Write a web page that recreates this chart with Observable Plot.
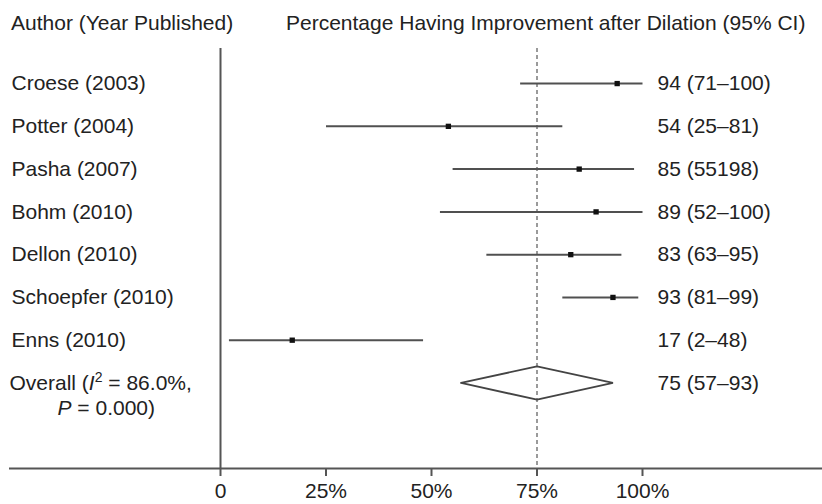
<!DOCTYPE html>
<html>
<head>
<meta charset="utf-8">
<script src="https://cdn.jsdelivr.net/npm/d3@7"></script>
<script src="https://cdn.jsdelivr.net/npm/@observablehq/plot@0.6"></script>
<style>
  body { margin: 0; background: #fff; font-family: "Liberation Sans", Arial, sans-serif; color: #222; }
  #wrap { width: 822px; }
  #header { position: relative; height: 44px; font-size: 21px; line-height: 21px; }
  #header span { position: absolute; top: 12px; white-space: nowrap; }
  svg { display: block; }
</style>
</head>
<body>
<div id="wrap">
  <div id="header"></div>
  <div id="chart"></div>
</div>
<script>
// ---- data ----
const authors = ["Croese (2003)", "Potter (2004)", "Pasha (2007)", "Bohm (2010)", "Dellon (2010)", "Schoepfer (2010)", "Enns (2010)"];
const estimates = [94, 54, 85, 89, 83, 93, 17];
const lowerCI = [71, 25, 55, 52, 63, 81, 2];
const upperCI = [100, 81, 98, 100, 95, 99, 48];
const valueLabels = ["94 (71–100)", "54 (25–81)", "85 (55198)", "89 (52–100)", "83 (63–95)", "93 (81–99)", "17 (2–48)"];
const overallEstimate = 75;
const overallLower = 57;
const overallUpper = 93;
const overallLabelLines = ["Overall (I2 = 86.0%,", "P = 0.000)"];
const overallValueLabel = "75 (57–93)";
const xTicks = [0, 25, 50, 75, 100];
const xTickLabels = ["0", "25%", "50%", "75%", "100%"];
const headerLeft = "Author (Year Published)";
const headerRight = "Percentage Having Improvement after Dilation (95% CI)";

// ---- header ----
const header = document.getElementById("header");
const h1 = document.createElement("span"); h1.style.left = "11px"; h1.textContent = headerLeft;
const h2 = document.createElement("span"); h2.style.left = "286px"; h2.textContent = headerRight;
header.append(h1, h2);

// ---- tables ----
const table = authors.map((a, i) => ({
  author: a, row: i, est: estimates[i], lo: lowerCI[i], hi: upperCI[i], label: valueLabels[i]
}));
const overallRow = authors.length;
const halfH = 0.39;
const diamond = [
  {x: overallLower, y: overallRow},
  {x: overallEstimate, y: overallRow - halfH},
  {x: overallUpper, y: overallRow},
  {x: overallEstimate, y: overallRow + halfH},
  {x: overallLower, y: overallRow}
];
const overallData = [{row: overallRow, l1: overallLabelLines[0], l2: overallLabelLines[1], v: overallValueLabel}];

const plot = Plot.plot({
  width: 822,
  height: 460,
  marginLeft: 220,
  marginRight: 180,
  marginTop: 4,
  marginBottom: 36,
  x: {domain: [0, 100]},
  y: {domain: [-0.82, 9], reverse: true, axis: null},
  style: {fontFamily: "'Liberation Sans', Arial, sans-serif", fontSize: "21px", color: "#222", background: "#fff"},
  marks: [
    Plot.ruleX([overallEstimate], {stroke: "#7a7a7a", strokeWidth: 1.5, strokeDasharray: "4,3"}),
    Plot.ruleX([0], {stroke: "#555", strokeWidth: 2}),
    Plot.ruleY([9], {stroke: "#555", strokeWidth: 2, insetLeft: -211, insetRight: -180}),
    Plot.axisX({
      ticks: xTicks,
      tickFormat: d => xTickLabels[xTicks.indexOf(d)],
      tickSize: 8, tickPadding: 7, stroke: "#555", strokeWidth: 2,
      fontSize: 21, fill: "#222", label: null
    }),
    Plot.link(table, {x1: "lo", x2: "hi", y1: "row", y2: "row", stroke: "#505050", strokeWidth: 2}),
    Plot.dot(table, {x: "est", y: "row", symbol: "square", r: 3, fill: "#111", stroke: "none"}),
    Plot.line(diamond, {x: "x", y: "y", stroke: "#444", strokeWidth: 1.8, fill: "none", strokeLinejoin: "miter"}),
    Plot.text(table, {text: "author", y: "row", frameAnchor: "left", dx: -209, textAnchor: "start", fill: "#222"}),
    Plot.text(table, {text: "label", y: "row", frameAnchor: "right", dx: 15, textAnchor: "start", fill: "#222"}),
    Plot.text(overallData, {text: "l1", y: "row", frameAnchor: "left", dx: -211, textAnchor: "start", fill: "#222"}),
    Plot.text(overallData, {text: "l2", y: "row", frameAnchor: "left", dx: -163, dy: 25, textAnchor: "start", fill: "#222"}),
    Plot.text(overallData, {text: "v", y: "row", frameAnchor: "right", dx: 15, textAnchor: "start", fill: "#222"})
  ]
});
document.getElementById("chart").append(plot);

// rich text for the overall label (italic I, superscript 2, italic P)
d3.select(plot).selectAll("text").each(function() {
  const t = d3.select(this);
  const s = this.textContent;
  if (s === overallLabelLines[0]) {
    t.text(null);
    t.append("tspan").text("Overall (");
    t.append("tspan").attr("font-style", "italic").text("I");
    t.append("tspan").attr("font-size", "14px").attr("dy", -8).text("2");
    t.append("tspan").attr("dy", 8).text(" = 86.0%,");
  } else if (s === overallLabelLines[1]) {
    t.text(null);
    t.append("tspan").attr("font-style", "italic").text("P");
    t.append("tspan").text(" = 0.000)");
  }
});
</script>
</body>
</html>
